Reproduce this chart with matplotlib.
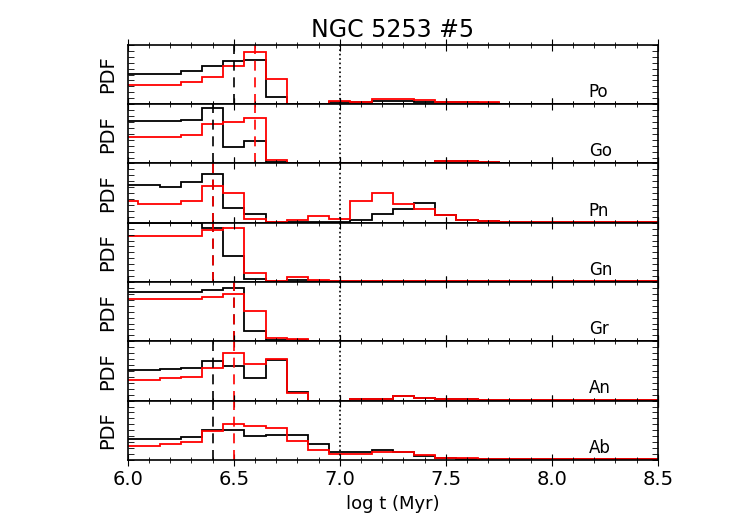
import numpy as np
import matplotlib
matplotlib.use("Agg")
import matplotlib.pyplot as plt
from matplotlib.ticker import MultipleLocator

centers = np.round(np.arange(6.0, 8.51, 0.1), 2)
labels = ["Po", "Go", "Pn", "Gn", "Gr", "An", "Ab"]

def pad(v, tail=0.01):
    return list(v) + [tail] * (len(centers) - len(v))

black = {
 "Po": pad([0.51,0.51,0.51,0.565,0.64,0.73,0.75,0.12,0.01,0.01,0.03,0.03,0.05,0.05,0.04,0.03,0.03,0.02]),
 "Go": pad([0.72,0.72,0.72,0.74,0.93,0.28,0.38,0.02,0.01,0.01,0.01,0.01,0.01,0.01,0.01,0.04,0.04,0.02]),
 "Pn": pad([0.64,0.64,0.61,0.68,0.83,0.25,0.14,0.01,0.01,0.01,0.01,0.04,0.14,0.24,0.34,0.13,0.04,0.03]),
 "Gn": pad([0.99,0.99,0.99,0.99,0.91,0.44,0.05,0.01,0.03,0.01]),
 "Gr": pad([0.83,0.83,0.83,0.83,0.87,0.90,0.18,0.03,0.02]),
 "An": pad([0.51,0.51,0.53,0.55,0.66,0.58,0.38,0.68,0.14,0.0,0.0,0.02,0.03,0.08,0.05,0.02,0.02]),
 "Ab": pad([0.36,0.36,0.36,0.39,0.51,0.51,0.40,0.42,0.42,0.27,0.13,0.13,0.17,0.13,0.06,0.04,0.02]),
}
red = {
 "Po": pad([0.33,0.33,0.33,0.38,0.46,0.64,0.88,0.42,0.0,0.01,0.06,0.03,0.09,0.09,0.07,0.04,0.04,0.03]),
 "Go": pad([0.45,0.45,0.45,0.48,0.67,0.70,0.77,0.06,0.01,0.01,0.01,0.01,0.01,0.01,0.01,0.04,0.04,0.02]),
 "Pn": pad([0.37,0.31,0.31,0.37,0.62,0.50,0.07,0.01,0.05,0.11,0.07,0.36,0.50,0.31,0.23,0.13,0.04,0.03]),
 "Gn": pad([0.77,0.77,0.77,0.77,0.88,0.91,0.16,0.01,0.09,0.03]),
 "Gr": pad([0.71,0.71,0.71,0.71,0.75,0.80,0.51,0.06,0.04]),
 "An": pad([0.35,0.35,0.38,0.39,0.55,0.80,0.62,0.70,0.12,0.0,0.0,0.03,0.03,0.08,0.05,0.02,0.02]),
 "Ab": pad([0.24,0.24,0.27,0.31,0.48,0.60,0.58,0.54,0.32,0.16,0.10,0.10,0.14,0.14,0.08,0.04,0.04]),
}
black_med = {"Po":6.5,"Go":6.4,"Pn":6.4,"Gn":6.4,"Gr":6.5,"An":6.4,"Ab":6.4}
red_med = {"Po":6.6,"Go":6.6,"Pn":6.4,"Gn":6.4,"Gr":6.5,"An":6.5,"Ab":6.5}

edges = np.append(centers - 0.05, centers[-1] + 0.05)

fig = plt.figure(figsize=(7.39, 5.28), dpi=100)
axes = fig.subplots(7, 1, sharex=True, gridspec_kw=dict(hspace=0))
fig.subplots_adjust(left=0.173, right=0.890, top=0.915, bottom=0.129)

for ax, lab in zip(axes, labels):
    ax.stairs(black[lab], edges, color="black", lw=1.3)
    ax.stairs(red[lab], edges, color="red", lw=1.3)
    ax.axvline(black_med[lab], color="black", ls=(0, (6, 4)), lw=1.2)
    ax.axvline(red_med[lab], color="red", ls=(0, (6, 4)), lw=1.2)
    ax.axvline(7.0, color="black", ls=":", lw=1.2)
    ax.set_xlim(6.0, 8.5)
    ax.set_ylim(0, 1.0)
    ax.set_yticks([])
    ax.yaxis.set_minor_locator(MultipleLocator(0.1))
    ax.tick_params(axis="y", which="minor", left=True, right=True, direction="in", length=4)
    ax.xaxis.set_major_locator(MultipleLocator(0.5))
    ax.xaxis.set_minor_locator(MultipleLocator(0.1))
    ax.tick_params(axis="x", which="both", top=True, bottom=True, direction="inout")
    ax.tick_params(axis="x", which="major", length=8)
    ax.tick_params(axis="x", which="minor", length=5)
    ax.set_ylabel("PDF", fontsize=14)
    ax.text(0.87, 0.12, lab, transform=ax.transAxes, fontsize=12)
    for s in ax.spines.values():
        s.set_linewidth(1.2)

axes[-1].set_xlabel("log t (Myr)", fontsize=13)
axes[-1].tick_params(axis="x", labelsize=14)
axes[-1].set_xticklabels(["6.0","6.5","7.0","7.5","8.0","8.5"])
axes[-1].set_xticks([6.0,6.5,7.0,7.5,8.0,8.5])
axes[0].set_title("NGC 5253 #5", fontsize=17)
fig.savefig("out.png", dpi=100)
